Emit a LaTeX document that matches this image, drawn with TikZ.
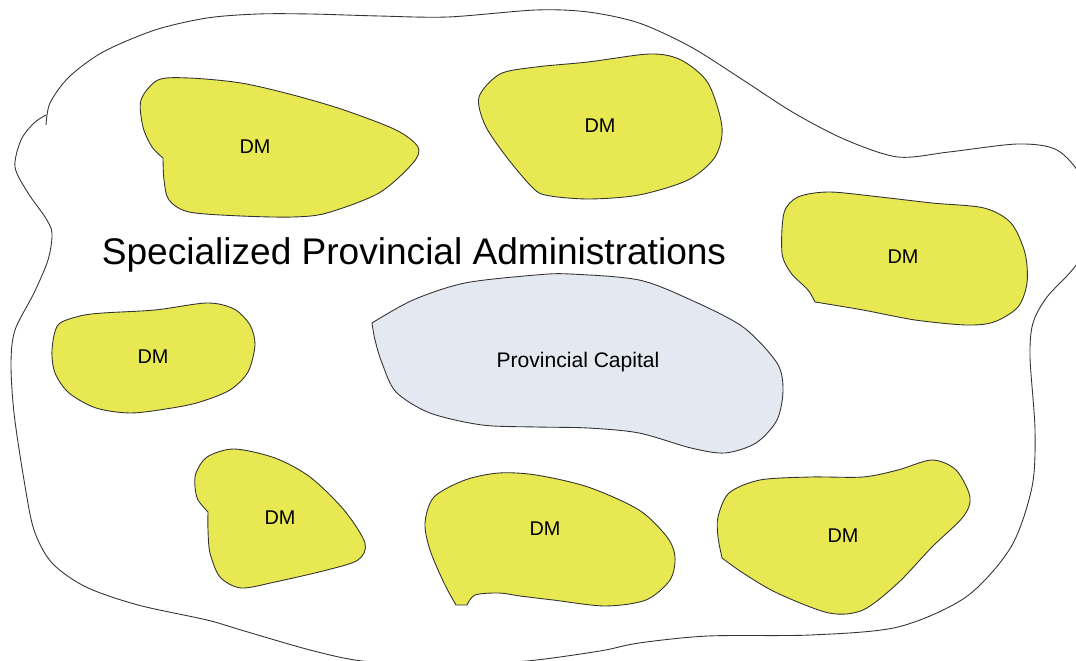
\documentclass[tikz,border=0pt]{standalone}
\usepackage{fontspec}
\setmainfont{Liberation Sans}
\definecolor{dmyellow}{RGB}{232,232,82}
\definecolor{capgray}{RGB}{228,233,241}

\begin{document}
\begin{tikzpicture}[x=0.02cm,y=-0.02cm]
				\tikzstyle{every node}=[inner sep=1pt]
				\tikzstyle{border}=[draw=black!80,line width=0.5pt]
				\tikzstyle{district}=[border,fill=dmyellow]
				\tikzstyle{capital}=[border,fill=capgray]
				\tikzstyle{dmlabel}=[font=\fontsize{11.3}{13}\selectfont]
				\useasboundingbox (0,0) rectangle (1076,661);
				\clip (0,0) rectangle (1076,661);
				\fill[white] (0,0) rectangle (1076,661);
				% province border
				\draw[border] plot[smooth] coordinates {(46,125) (50,103) (69,77) (103,52) (155,30) (207,18) (258,14) (310,14) (379,16) (448,17) (536,10) (588,12) (639,23) (691,47) (743,80) (794,113) (846,140) (898,157) (949,152) (1018,144) (1057,150) (1082,178) (1090,218) (1078,262) (1047,297) (1033,323) (1030,357) (1035,430) (1032,487) (1011,547) (966,597) (898,627) (811,635) (708,636) (639,643) (600,651) (527,661) (440,666) (362,661) (310,650) (241,630) (207,620) (138,605) (86,587) (52,563) (34,530) (24,480) (14,413) (11,363) (15,330) (34,293) (48,260) (52,233) (45,217) (28,193) (15,167) (21,140) (34,123) (46,115)};
				% districts
				\filldraw[district] plot[smooth] coordinates {(163,158) (164,180) (169,200) (189,212) (241,216) (293,217) (327,213) (379,193) (413,163) (418,147) (396,130) (344,110) (293,95) (241,83) (189,78) (158,80) (141,100) (143,127) (152,147) (163,158)};
				\filldraw[district] plot[smooth cycle] coordinates {(479,97) (500,74) (536,67) (588,62) (650,54) (681,60) (708,83) (722,127) (715,157) (688,180) (639,195) (588,199) (545,195) (530,185) (505,155) (485,125)};
				\filldraw[district] plot[smooth] coordinates {(815,302) (863,310) (915,320) (966,325) (994,322) (1018,307) (1027,283) (1025,253) (1011,223) (984,208) (932,203) (880,197) (829,192) (798,197) (784,213) (782,253) (791,273) (808,290) (815,302)};
				\filldraw[district] plot[smooth cycle] coordinates {(52,350) (58,325) (80,316) (103,313) (155,310) (207,303) (234,309) (250,325) (255,345) (248,372) (230,390) (200,402) (172,408) (131,413) (96,408) (69,393) (55,373)};
				\filldraw[district] plot[smooth] coordinates {(208,512) (208,530) (210,553) (220,577) (241,588) (275,582) (327,570) (358,560) (365,543) (344,510) (310,477) (275,458) (234,449) (207,457) (196,473) (195,487) (198,500) (208,512)};
				\filldraw[district] plot[smooth] coordinates {(467,605) (475,595) (499,593) (520,596) (553,600) (605,606) (646,600) (670,580) (675,557) (667,537) (639,510) (588,487) (536,475) (499,473) (465,480) (434,497) (425,523) (430,550) (444,583) (456,605)} -- cycle;
				\filldraw[district] plot[smooth] coordinates {(722,558) (743,573) (777,593) (829,613) (863,610) (898,583) (932,547) (963,517) (970,497) (956,470) (932,460) (898,470) (863,477) (811,477) (760,480) (729,493) (718,517) (718,537) (722,558)};
				% capital
				\filldraw[capital] plot[smooth] coordinates {(372,323) (413,300) (465,283) (536,275) (570,274) (639,280) (691,300) (743,327) (777,363) (783,390) (777,420) (756,443) (725,453) (691,448) (639,433) (588,428) (536,427) (482,425) (430,413) (396,392) (382,363) (375,340) (372,323)};
				% labels
				\node (spa) at (414,255) {\fontsize{21.1}{25}\selectfont Specialized Provincial Administrations};
				\node (cap) at (578,362) {\fontsize{12}{14}\selectfont Provincial Capital};
				\node[dmlabel] (dm1) at (255,147) {DM};
				\node[dmlabel] (dm2) at (600,126) {DM};
				\node[dmlabel] (dm3) at (903,257) {DM};
				\node[dmlabel] (dm4) at (153,357) {DM};
				\node[dmlabel] (dm5) at (280,518) {DM};
				\node[dmlabel] (dm6) at (545,529) {DM};
				\node[dmlabel] (dm7) at (843,536) {DM};
\end{tikzpicture}
\end{document}
